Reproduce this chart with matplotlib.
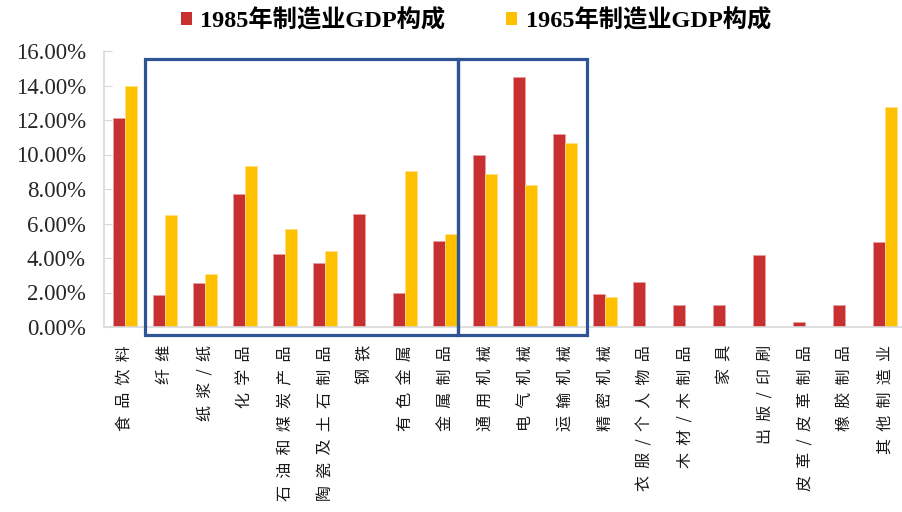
import matplotlib
matplotlib.use("Agg")
import matplotlib.pyplot as plt
from matplotlib.patches import Patch, Rectangle
from matplotlib.ticker import FuncFormatter
import numpy as np

categories = ["食品饮料", "纤维", "纸浆/纸", "化学品", "石油和煤炭产品", "陶瓷及土石制品",
              "钢铁", "有色金属", "金属制品", "通用机械", "电气机械", "运输机械",
              "精密机械", "衣服/个人物品", "木材/木制品", "家具", "出版/印刷",
              "皮革/皮革制品", "橡胶制品", "其他制造业"]
gdp_1985 = [12.1, 1.85, 2.55, 7.7, 4.25, 3.7, 6.55, 2.0, 5.0, 9.95, 14.5, 11.2,
            1.9, 2.6, 1.25, 1.3, 4.15, 0.3, 1.3, 4.95]
gdp_1965 = [13.95, 6.5, 3.05, 9.35, 5.7, 4.4, 0, 9.05, 5.4, 8.85, 8.25, 10.65,
            1.75, 0, 0, 0, 0, 0, 0, 12.75]
series_names = ["1985年制造业GDP构成", "1965年制造业GDP构成"]
y_ticks = [0, 2, 4, 6, 8, 10, 12, 14, 16]

RED = "#C82F30"
YELLOW = "#FFC000"
BOX = "#2F5496"
AXIS_GRAY = "#D9D9D9"

fig = plt.figure(figsize=(9.03, 5.12), dpi=100)
ax = fig.add_axes([104 / 903, 1 - 327 / 512, 1 - 104 / 903, (327 - 51) / 512])

x = np.arange(len(categories))
w = 0.3
ax.bar(x - w / 2, gdp_1985, width=w, color=RED, edgecolor="#E8A0A0", linewidth=0.5)
ax.bar(x + w / 2, gdp_1965, width=w, color=YELLOW, edgecolor="#FFE08A", linewidth=0.5)

ax.set_xlim(-0.525, 19.45)
ax.set_ylim(0, 16)
ax.set_yticks(y_ticks)
ax.yaxis.set_major_formatter(FuncFormatter(lambda v, p: f"{v:.2f}%"))
for lab in ax.get_yticklabels():
    lab.set_fontfamily("Liberation Serif")
    lab.set_fontsize(16.5)
    lab.set_color("#262626")
ax.tick_params(axis="y", direction="in", length=6, color=AXIS_GRAY, pad=13)

# vertical category labels, characters spaced out
ax.set_xticks(x)
ax.set_xticklabels(["  ".join(c) for c in categories], rotation=90, ha="center", va="top",
                   fontfamily=["Noto Sans CJK SC", "DejaVu Sans"], fontsize=11.5,
                   color="#1a1a1a")
ax.tick_params(axis="x", length=0, pad=13)

for side in ["top", "right"]:
    ax.spines[side].set_visible(False)
for side in ["left", "bottom"]:
    ax.spines[side].set_color(AXIS_GRAY)
    ax.spines[side].set_linewidth(1.2)

# highlighted groups
for x0, x1 in [(0.5, 8.32), (8.32, 11.55)]:
    ax.add_patch(Rectangle((x0, -0.46), x1 - x0, 16.0, fill=False, edgecolor=BOX,
                           linewidth=2.3, clip_on=False, zorder=5))

handles = [Patch(facecolor=RED, edgecolor="none"), Patch(facecolor=YELLOW, edgecolor="none")]
fig.legend(handles, series_names, loc="upper center", bbox_to_anchor=(0.527, 1.025), ncol=2,
           frameon=False, handlelength=0.45, handleheight=0.45, handletextpad=0.35,
           columnspacing=2.5,
           prop={"family": ["Liberation Serif", "Noto Sans CJK SC"], "weight": "bold", "size": 17.5})

fig.savefig("out.png", dpi=100)
